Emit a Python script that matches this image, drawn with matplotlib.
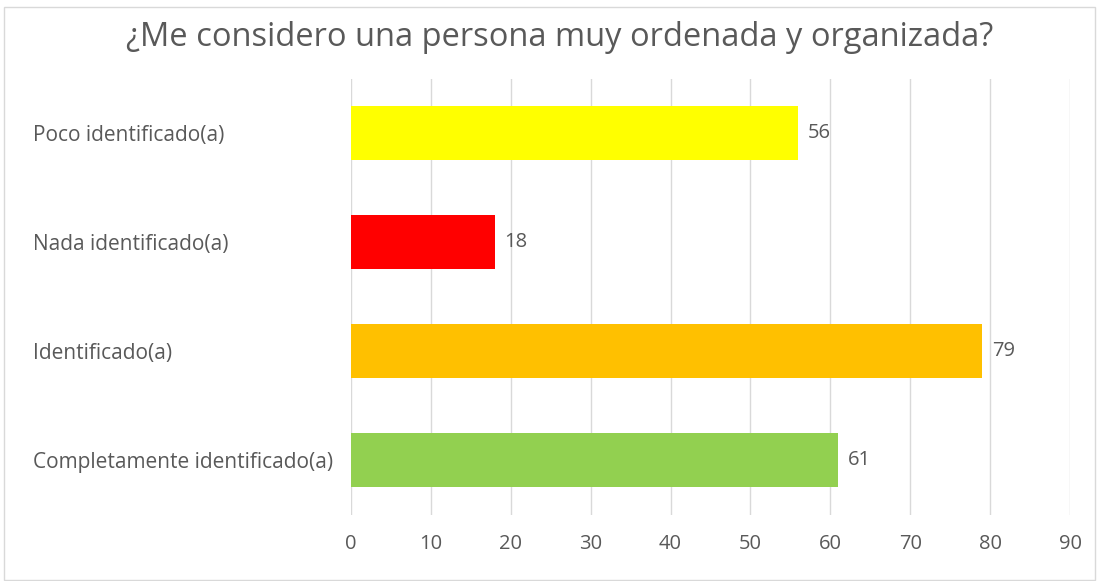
import matplotlib.pyplot as plt
from matplotlib.patches import Rectangle

# data, bottom to top as drawn
categories = ["Completamente identificado(a)", "Identificado(a)",
              "Nada identificado(a)", "Poco identificado(a)"]
values = [61, 79, 18, 56]
colors = ["#92D050", "#FFC000", "#FF0000", "#FFFF00"]
ticks = list(range(0, 100, 10))
title = "¿Me considero una persona muy ordenada y organizada?"

plt.rcParams['font.family'] = ['Open Sans', 'DejaVu Sans']
grey = "#595959"

fig = plt.figure(figsize=(10.99, 5.81), dpi=100)
fig.patches.append(Rectangle((4 / 1099, 1 / 581), 1091 / 1099, 573 / 581,
                             transform=fig.transFigure, fill=False,
                             edgecolor="#D9D9D9", linewidth=1))

ax = fig.add_axes([351 / 1099, 1 - 514.5 / 581, 719 / 1099, 436 / 581])
y = range(len(categories))
bars = ax.barh(y, values, height=0.5, color=colors, zorder=3)

for b, v in zip(bars, values):
    ax.annotate(str(v), (b.get_width(), b.get_y() + b.get_height() / 2),
                xytext=(7, 0), textcoords="offset points",
                va="center", ha="left", fontsize=14.5, color=grey)

ax.set_xlim(0, 90)
ax.set_ylim(-0.5, len(categories) - 0.5)
ax.set_xticks(ticks)
ax.set_yticks(list(y))
ax.set_yticklabels(categories)
ax.grid(axis="x", color="#D9D9D9", linewidth=1, zorder=0)
for s in ax.spines.values():
    s.set_visible(False)
ax.tick_params(axis="x", length=0, pad=14, labelsize=14.5, labelcolor=grey)
# left aligned labels starting near the chart's left edge
ax.tick_params(axis="y", length=0, pad=318 * 72 / 100, labelsize=15,
               labelcolor=grey)
for lbl in ax.get_yticklabels():
    lbl.set_horizontalalignment("left")

fig.text(560 / 1099, 1 - 38 / 581, title, ha="center", va="center",
         fontsize=23.5, color=grey)

fig.savefig("out.png", dpi=100)
